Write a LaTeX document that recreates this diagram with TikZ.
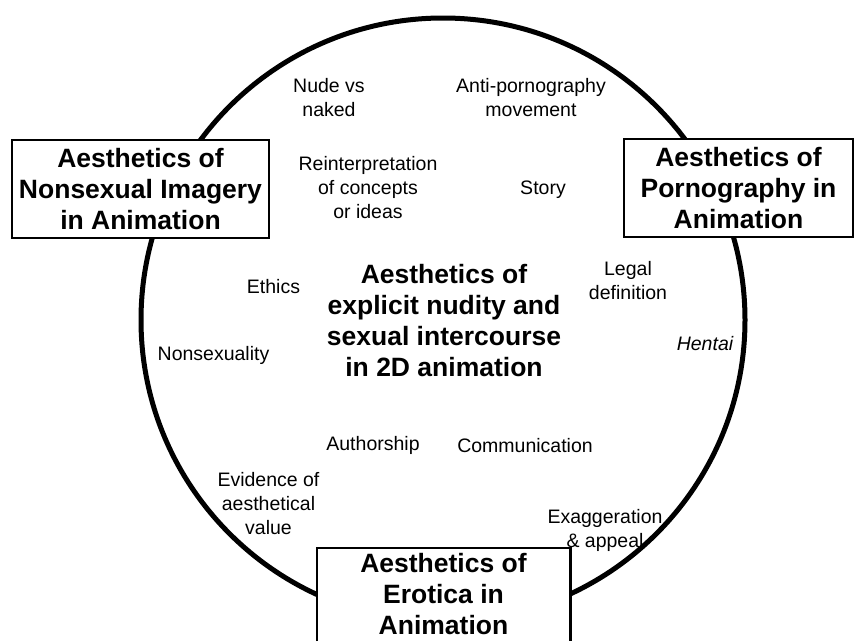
\documentclass[tikz,border=0pt]{standalone}
\usepackage{fontspec}
\setmainfont{Liberation Sans}
\begin{document}
\begin{tikzpicture}[x=1pt,y=-1pt,
  topic/.style={align=center,inner sep=0pt,font=\fontsize{19.5}{24}\selectfont},
  title/.style={align=center,inner sep=0pt,font=\fontsize{26.5}{31}\selectfont\bfseries},
  frame/.style={draw=black,line width=2.6pt,fill=white,align=center,inner sep=0pt,
    font=\fontsize{26.5}{31}\selectfont\bfseries},
  openframe/.style={fill=white,align=center,inner sep=0pt,
    font=\fontsize{26.5}{31}\selectfont\bfseries}]
\useasboundingbox (0,0) rectangle (865,641);
% central ring
\draw[line width=5pt] (443,320) circle (302);
% central theme
\node[title] (core) at (444,321) {Aesthetics of\\explicit nudity and\\sexual intercourse\\in 2D animation};
% surrounding topics
\node[topic] (nude) at (329,98) {Nude vs\\naked};
\node[topic] (anti) at (531,98) {Anti-pornography\\movement};
\node[topic] (reint) at (368,188) {Reinterpretation\\of concepts\\or ideas};
\node[topic] (story) at (543,190) {Story};
\node[topic] (legal) at (628,281) {Legal\\definition};
\node[topic] (ethics) at (273.5,287) {Ethics};
\node[topic] (nonsex) at (213.5,355) {Nonsexuality};
\node[topic,font=\fontsize{19.5}{24}\selectfont\itshape] (hentai) at (705,344) {Hentai};
\node[topic] (author) at (373,445) {Authorship};
\node[topic] (comm) at (525,446) {Communication};
\node[topic] (evid) at (268.5,504) {Evidence of\\aesthetical\\value};
\node[topic] (exag) at (605,530) {Exaggeration\\\& appeal};
% framed fields
\node[frame,minimum width=257,minimum height=98] (nonsexbox) at (140.5,189)
  {Aesthetics of\\Nonsexual Imagery\\in Animation};
\node[frame,minimum width=229,minimum height=98] (pornbox) at (738.5,188)
  {Aesthetics of\\Pornography in\\Animation};
% lower field runs past the bottom edge, so its frame is open there
\node[openframe,minimum width=253,minimum height=93] (erobox) at (443.5,594.5)
  {Aesthetics of\\Erotica in\\Animation};
\draw[line width=2.6pt] (erobox.south west) |- (erobox.north east) -- (erobox.south east);
\end{tikzpicture}
\end{document}
